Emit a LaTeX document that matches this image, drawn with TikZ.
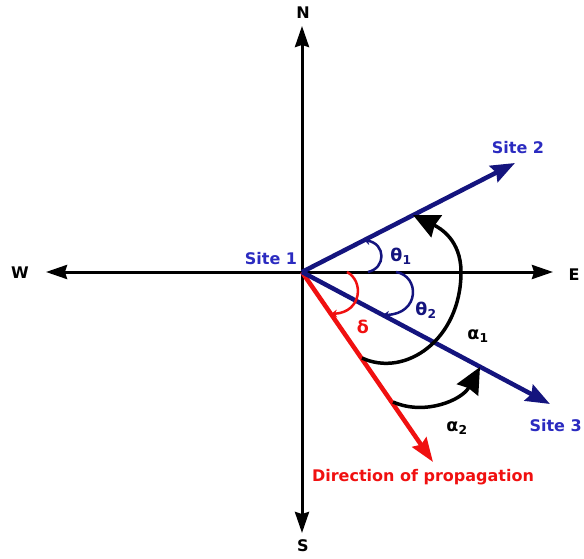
\documentclass[tikz,border=0pt]{standalone}
\usepackage{fontspec}
\setmainfont{DejaVu Sans}
\usepackage{xcolor}
\usepackage{tikz}
\usetikzlibrary{arrows.meta}
\definecolor{sitec}{HTML}{14147E}
\definecolor{sitelab}{HTML}{2B2BC0}
\definecolor{propc}{HTML}{F01010}
\tikzset{
  ax/.style={-{Stealth[length=21pt,width=14pt,inset=2pt]},line width=3pt,black},
  sar/.style={-{Stealth[length=24pt,width=18pt,inset=3pt]},line width=4.5pt,sitec},
  par/.style={-{Stealth[length=24pt,width=17pt,inset=3pt]},line width=4.5pt,propc},
  big/.style={-{Stealth[length=26pt,width=24pt,inset=2pt]},line width=3.5pt,black},
  sml/.style={-{Stealth[length=6pt,width=8pt]},line width=2.5pt},
  lb/.style={font=\fontsize{16}{18}\selectfont\bfseries,inner sep=1pt},
  gk/.style={font=\fontsize{17.5}{20}\selectfont\bfseries,inner sep=1pt}
}
\begin{document}
\begin{tikzpicture}[x=1pt,y=-1pt]
\useasboundingbox (0,0) rectangle (584,559);
\coordinate (o) at (302,272);
\coordinate (n) at (302,26);
\coordinate (s) at (302,533);
\coordinate (w) at (46,272);
\coordinate (e) at (553,272);
\coordinate (s2) at (515,163);
\coordinate (s3) at (550,404);
\coordinate (dp) at (433,462);
% compass
\draw[ax] (o) -- (n);
\draw[ax] (o) -- (s);
\draw[ax] (o) -- (w);
\draw[ax] (o) -- (e);
\node[lb] (nl) at (303,13) {N};
\node[lb] (sl) at (303,546) {S};
\node[lb] (wl) at (20,273) {W};
\node[lb] (el) at (574,275) {E};
% sites and propagation
\draw[par] (o) -- (dp);
\draw[sar] (o) -- (s2);
\draw[sar] (o) -- (s3);
\node[lb,text=sitelab] (l1) at (271,259) {Site 1};
\node[lb,text=sitelab] (l2) at (518,148) {Site 2};
\node[lb,text=sitelab,anchor=east] (l3) at (583,426) {Site 3};
\node[lb,text=propc] (lp) at (423,477) {Direction of propagation};
% angles
\draw[sml,sitec] (368,272) .. controls (386,268) and (386,244) .. (364,240);
\draw[sml,sitec] (396,272) .. controls (420,276) and (420,314) .. (383,315);
\draw[sml,propc] (347,272) .. controls (364,281) and (362,312) .. (331,314);
\draw[big] (362,358) .. controls (405,378) and (461,340) .. (461,272)
  .. controls (461,240) and (440,228) .. (413,215);
\draw[big] (393,402) .. controls (425,416) and (462,400) .. (480,367);
\node[gk,text=sitec] (t1) at (401,256) {θ\textsubscript{1}};
\node[gk,text=sitec] (t2) at (426,310) {θ\textsubscript{2}};
\node[gk,text=propc] (dl) at (363,327) {δ};
\node[gk] (a1) at (478,336) {α\textsubscript{1}};
\node[gk] (a2) at (457,428) {α\textsubscript{2}};
\end{tikzpicture}
\end{document}
